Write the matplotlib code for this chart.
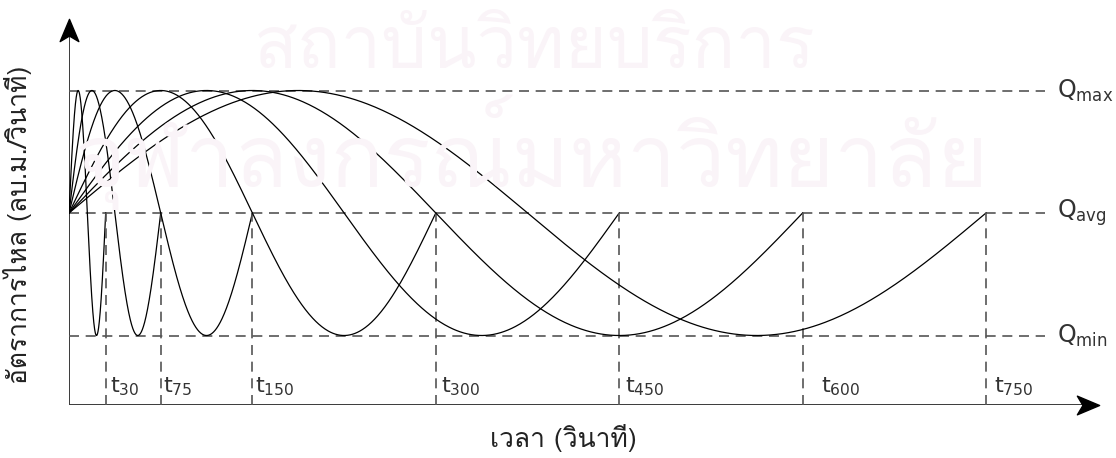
import matplotlib
matplotlib.use("Agg")
import numpy as np
import matplotlib.pyplot as plt
from matplotlib import font_manager as fm
from matplotlib.ft2font import FT2Font
from matplotlib.path import Path

# ---- data -------------------------------------------------------------
periods = [30, 75, 150, 300, 450, 600, 750]          # pulse period (s)
period_labels = ["30", "75", "150", "300", "450", "600", "750"]
q_max = 3.0
q_avg = 2.0
q_min = 1.0
level_labels = ["max", "avg", "min"]

x_label = "เวลา (วินาที)"
y_label = "อัตราการไหล (ลบ.ม./วินาที)"
watermark_lines = ["สถาบันวิทยบริการ", "จุฬาลงกรณ์มหาวิทยาลัย"]


def thai_family():
    """Return an installed family that can draw Thai script."""
    probe = ord("ก")
    seen = set()
    for f in fm.fontManager.ttflist:
        if f.name in seen:
            continue
        seen.add(f.name)
        try:
            if FT2Font(f.fname).get_char_index(probe):
                return f.name
        except Exception:
            pass
    return "DejaVu Sans"


THAI = thai_family()
LATIN = "Liberation Sans"
plt.rcParams["mathtext.fontset"] = "custom"
plt.rcParams["mathtext.rm"] = LATIN
plt.rcParams["mathtext.it"] = LATIN

W, H = 1116, 458
fig = plt.figure(figsize=(W / 100, H / 100), dpi=100)

# axes box in pixels: left 69, right 1098, top 20, bottom 405
ax = fig.add_axes([69 / W, (H - 405) / H, (1098 - 69) / W, (405 - 20) / H])
px_per_s = (986 - 69) / 750.0
px_per_q = (337 - 92) / (q_max - q_min)
x_hi = (1098 - 69) / px_per_s
y_lo = q_avg - (405 - 213) / px_per_q
y_hi = q_avg + (213 - 20) / px_per_q
ax.set_xlim(0, x_hi)
ax.set_ylim(y_lo, y_hi)
ax.axis("off")

# faint background watermark
wm_color = "#faf4f8"
fig.text(535 / W, 1 - 50 / H, watermark_lines[0], family=[THAI, "DejaVu Sans"],
         fontsize=52, color=wm_color, ha="center", va="center", zorder=0)
fig.text(532 / W, 1 - 152 / H, watermark_lines[1], family=[THAI, "DejaVu Sans"],
         fontsize=63, color=wm_color, ha="center", va="center", zorder=0)

# axes with arrow heads
axis_color = "#3a3a3a"
ax.plot([0, 0], [y_lo, y_hi - 0.05], color=axis_color, lw=1.4, solid_capstyle="butt")
ax.plot([0, x_hi - 5], [y_lo, y_lo], color=axis_color, lw=1.4, solid_capstyle="butt")

head_up = Path([(0, 0.5), (0.42, -0.5), (0, -0.25), (-0.42, -0.5), (0, 0.5)],
               [Path.MOVETO, Path.LINETO, Path.LINETO, Path.LINETO, Path.CLOSEPOLY])
head_right = Path([(0.5, 0), (-0.5, 0.42), (-0.25, 0), (-0.5, -0.42), (0.5, 0)],
                  [Path.MOVETO, Path.LINETO, Path.LINETO, Path.LINETO, Path.CLOSEPOLY])
ax.plot([0], [y_hi - 10 / px_per_q], marker=head_up, markersize=16,
        color="black", mec="black", clip_on=False)
ax.plot([x_hi - 10 / px_per_s], [y_lo], marker=head_right, markersize=16,
        color="black", mec="black", clip_on=False)

# reference levels
dash_color = "#555555"
dash = (0, (6, 4))
x_end = (1045 - 69) / px_per_s
for q in (q_max, q_avg, q_min):
    ax.plot([0, x_end], [q, q], color=dash_color, lw=1.2, ls=dash)

# one sinusoidal pulse per period
amp = (q_max - q_min) / 2
for T in periods:
    t = np.linspace(0, T, 600)
    q = q_avg + amp * np.sin(2 * np.pi * t / T)
    ax.plot(t, q, color="black", lw=0.9)
    ax.plot([T, T], [y_lo, q_avg], color=dash_color, lw=1.2, ls=dash)

# period labels
label_dx = [4, 2, 3, 5, 6, 18, 8]
label_y = y_lo + 13 / px_per_q
for T, lab, dx in zip(periods, period_labels, label_dx):
    ax.text(T + dx / px_per_s, label_y, r"$\mathregular{t_{%s}}$" % lab,
            fontsize=16, color="#333333", ha="left", va="baseline")

# level labels
for q, lab in zip((q_max, q_avg, q_min), level_labels):
    ax.text((1057 - 69) / px_per_s, q, r"$\mathregular{Q_{%s}}$" % lab,
            fontsize=17, color="#333333", ha="left", va="center", clip_on=False)

# axis titles
fig.text(563 / W, 1 - 438 / H, x_label, family=[THAI, "DejaVu Sans"],
         fontsize=19, color="#222222", ha="center", va="center")
fig.text(18 / W, 1 - 225 / H, y_label, family=[THAI, "DejaVu Sans"],
         fontsize=19, color="#222222", ha="center", va="center", rotation=90)

fig.savefig("out.png", dpi=100)
